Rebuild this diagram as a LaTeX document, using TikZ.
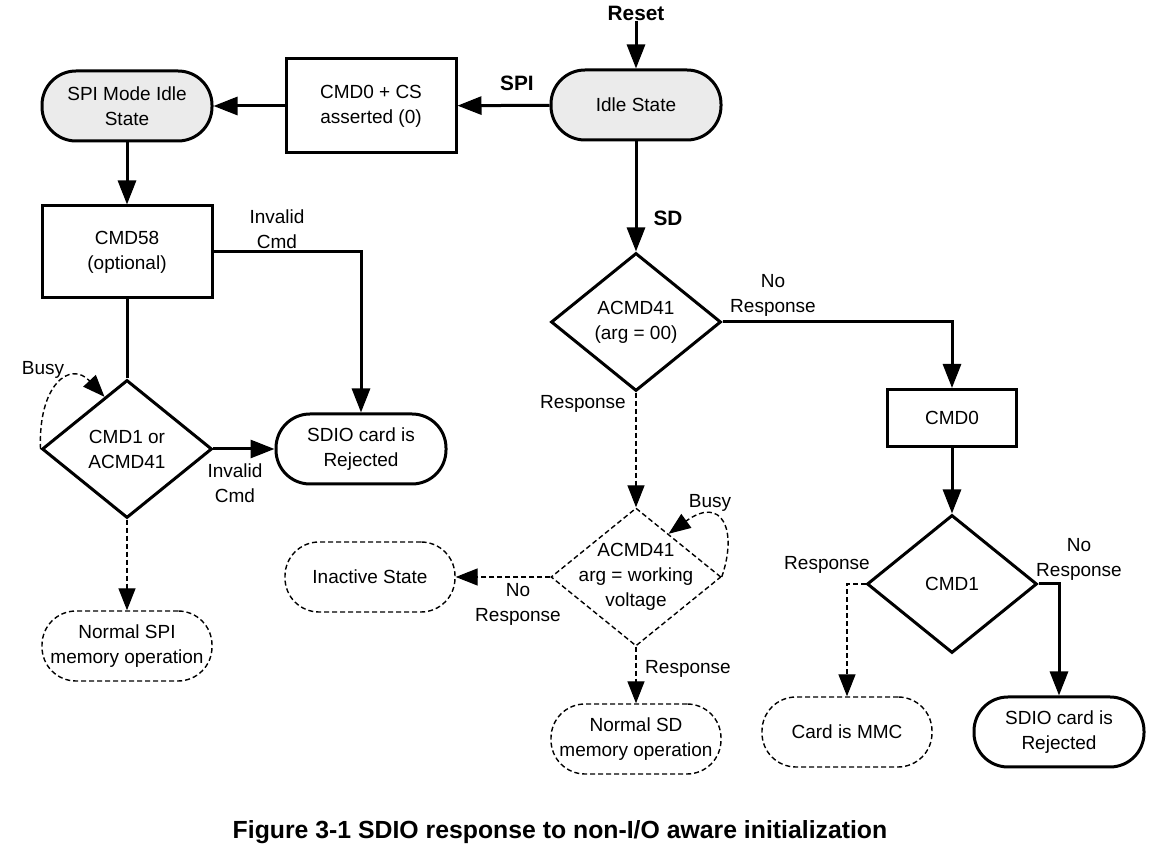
\documentclass[tikz,border=0pt]{standalone}
\usepackage{fontspec}
\setmainfont{Liberation Sans}
\usetikzlibrary{arrows.meta,shapes.geometric,calc}

\tikzset{
  stadium/.style={draw, line width=1.5pt, rounded corners=17pt, minimum width=85pt, minimum height=35pt, align=center, inner sep=0pt},
  shaded/.style={stadium, fill=black!8},
  dstadium/.style={stadium, line width=0.7pt, dash pattern=on 2.5pt off 1.5pt},
  box/.style={draw, line width=1.5pt, align=center, inner sep=0pt},
  decision/.style={draw, diamond, line width=1.5pt, minimum width=85pt, minimum height=69pt, inner sep=0pt},
  ddecision/.style={decision, line width=0.7pt, dash pattern=on 2.5pt off 1.5pt},
  lbl/.style={align=center, inner sep=0pt},
  blbl/.style={font=\fontsize{10.4}{12.5}\selectfont\bfseries, inner sep=0pt},
  flow/.style={line width=1.5pt, -{Triangle[length=12pt,width=9pt]}},
  dflow/.style={line width=0.7pt, dash pattern=on 2.5pt off 1.5pt, -{Triangle[length=11pt,width=8.5pt]}},
}

\begin{document}
\begin{tikzpicture}[x=0.5pt, y=-0.5pt, font=\fontsize{9.5}{12.5}\selectfont]

    \useasboundingbox (0,0) rectangle (1169,854);

    % SPI side
    \node[blbl] (reset) at (636,13) {Reset};
    \node[shaded] (idle) at (636,105) {Idle State};
    \node[box, minimum width=85pt, minimum height=47pt] (cmdcs) at (371,106) {CMD0 + CS\\asserted (0)};
    \node[shaded] (spiidle) at (127,106) {SPI Mode Idle\\State};
    \node[box, minimum width=85pt, minimum height=46pt] (cmd58) at (127,252) {CMD58\\(optional)};
    \node[decision, label={[lbl]center:{CMD1 or\\ACMD41}}] (spidec) at (127,449) {};
    \node[stadium] (rejl) at (361,449) {SDIO card is\\Rejected};
    \node[dstadium] (spinorm) at (127,646) {Normal SPI\\memory operation};

    % SD side
    \node[decision, label={[lbl]center:{ACMD41\\(arg = 00)}}] (acmda) at (636,322) {};
    \node[ddecision, label={[lbl]center:{ACMD41\\arg = working\\voltage}}] (acmdb) at (636,577) {};
    \node[dstadium] (inactive) at (370,577) {Inactive State};
    \node[dstadium] (sdnorm) at (636,739) {Normal SD\\memory operation};

    % MMC check
    \node[box, minimum width=64.5pt, minimum height=28.5pt] (cmdzero) at (952,418) {CMD0};
    \node[decision, label={[lbl]center:CMD1}] (cmdone) at (952,584) {};
    \node[dstadium] (mmc) at (847,732) {Card is MMC};
    \node[stadium] (rejr) at (1059,732) {SDIO card is\\Rejected};

    % Labels
    \node[blbl] (spilbl) at (517,83) {SPI};
    \node[blbl] (sdlbl) at (668,218) {SD};
    \node[lbl] (inv1) at (277,229) {Invalid\\Cmd};
    \node[lbl] (busy1) at (43,370) {Busy};
    \node[lbl] (inv2) at (235,483) {Invalid\\Cmd};
    \node[lbl] (resp1) at (583,404) {Response};
    \node[lbl] (nores1) at (773,295) {No\\Response};
    \node[lbl] (busy2) at (710,503) {Busy};
    \node[lbl] (nores2) at (518,604) {No\\Response};
    \node[lbl] (resp2) at (688,669) {Response};
    \node[lbl] (resp3) at (827,565) {Response};
    \node[lbl] (nores3) at (1079,559) {No\\Response};

    % Connectors
    \draw[flow] (reset) -- (idle);
    \draw[flow] (idle) -- (cmdcs);
    \draw[flow] (cmdcs) -- (spiidle);
    \draw[flow] (spiidle) -- (cmd58);
    \draw[line width=1.5pt] (cmd58) -- (spidec);
    \draw[flow] (cmd58.east) -| (rejl.north);
    \draw[flow] (spidec) -- (rejl);
    \draw[dflow] (spidec) -- (spinorm);
    \draw[dflow] (spidec.west) .. controls (38,385) and (70,360) .. ($(spidec.west)!0.74!(spidec.north)$);

    \draw[flow] (idle) -- (acmda);
    \draw[flow] (acmda.east) -| (cmdzero.north);
    \draw[dflow] (acmda) -- (acmdb);
    \draw[dflow] (acmdb) -- (inactive);
    \draw[dflow] (acmdb) -- (sdnorm);
    \draw[dflow] (acmdb.east) .. controls (738,530) and (722,495) .. ($(acmdb.north)!0.38!(acmdb.east)$);

    \draw[flow] (cmdzero) -- (cmdone);
    \draw[dflow] (cmdone.west) -| (mmc.north);
    \draw[flow] (cmdone.east) -| (rejr.north);

    % Caption
    \node[font=\fontsize{12.4}{14}\selectfont\bfseries] (caption) at (560,832) {Figure 3-1 SDIO response to non-I/O aware initialization};

\end{tikzpicture}
\end{document}
